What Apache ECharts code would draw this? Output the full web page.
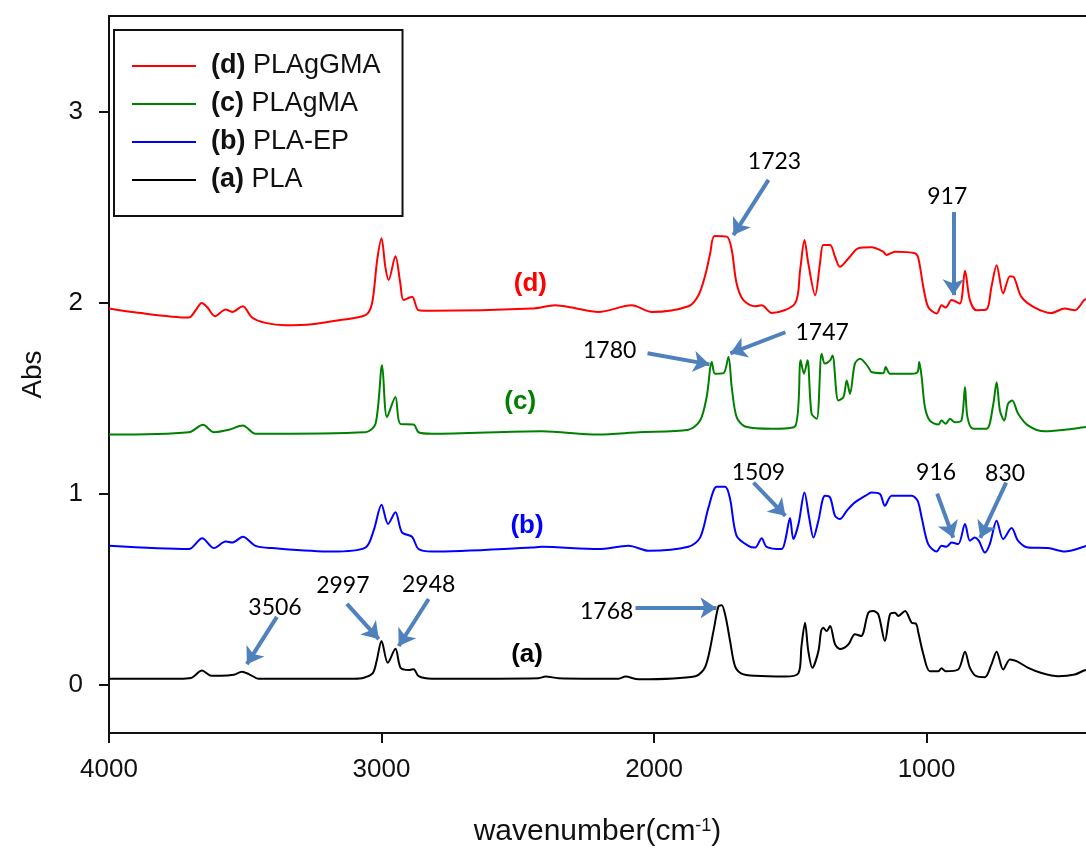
<!DOCTYPE html>
<html>
<head>
<meta charset="utf-8">
<script src="https://cdn.jsdelivr.net/npm/echarts@6/dist/echarts.min.js"></script>
<style>
html, body { margin: 0; padding: 0; background: #fff; }
#ichart { width: 1086px; height: 853px; }
</style>
</head>
<body>
<div id="ichart"></div>
<script>
// tick values
var xTicks = [1000, 2000, 3000, 4000]
var yTicks = [0, 1, 2, 3]

var seriesNames = ['(d) PLAgGMA', '(c) PLAgMA', '(b) PLA-EP', '(a) PLA']
var seriesColors = ['#ff0000', '#008000', '#0000ff', '#000000']

// spectra as [wavenumber, absorbance]
var specD = [[4000, 1.970], [3915, 1.952], [3707, 1.923], [3682, 1.961], [3660, 1.999], [3640, 1.978], [3611, 1.930], [3572, 1.965], [3548, 1.952], [3509, 1.982], [3475, 1.923], [3426, 1.895], [3352, 1.883], [3255, 1.888], [3157, 1.909], [3059, 1.935], [3035, 1.996], [3016, 2.223], [3000, 2.337], [2986, 2.188], [2974, 2.119], [2949, 2.244], [2931, 2.101], [2919, 2.014], [2888, 2.031], [2864, 1.961], [2815, 1.958], [2448, 1.970], [2362, 1.987], [2302, 1.975], [2204, 1.952], [2082, 1.987], [2008, 1.952], [1874, 1.982], [1837, 2.040], [1812, 2.145], [1794, 2.259], [1778, 2.349], [1733, 2.346], [1715, 2.276], [1697, 2.101], [1672, 2.014], [1629, 1.982], [1605, 1.987], [1568, 1.947], [1483, 1.996], [1464, 2.171], [1448, 2.328], [1434, 2.206], [1409, 2.040], [1391, 2.206], [1379, 2.302], [1354, 2.302], [1336, 2.241], [1318, 2.188], [1287, 2.232], [1250, 2.285], [1202, 2.290], [1159, 2.267], [1147, 2.250], [1116, 2.267], [1043, 2.259], [1030, 2.232], [1012, 2.083], [994, 1.978], [963, 1.944], [945, 1.987], [930, 1.975], [908, 2.014], [878, 1.996], [859, 2.167], [841, 2.014], [817, 1.961], [780, 1.965], [762, 2.083], [743, 2.197], [719, 2.049], [694, 2.139], [679, 2.133], [652, 2.031], [603, 1.975], [542, 1.947], [493, 1.970], [456, 1.961], [422, 2.014], [415, 2.02]]

var specC = [[4000, 1.311], [3707, 1.323], [3655, 1.362], [3615, 1.323], [3560, 1.336], [3509, 1.358], [3462, 1.315], [3059, 1.323], [3022, 1.367], [2998, 1.673], [2980, 1.402], [2949, 1.507], [2931, 1.367], [2882, 1.363], [2864, 1.323], [2815, 1.315], [2412, 1.328], [2204, 1.311], [2057, 1.323], [1874, 1.336], [1831, 1.384], [1807, 1.507], [1788, 1.690], [1776, 1.629], [1745, 1.632], [1727, 1.716], [1715, 1.559], [1697, 1.402], [1666, 1.353], [1568, 1.341], [1483, 1.353], [1462, 1.699], [1450, 1.629], [1437, 1.699], [1422, 1.420], [1403, 1.393], [1385, 1.734], [1373, 1.682], [1354, 1.699], [1345, 1.725], [1324, 1.489], [1305, 1.507], [1293, 1.594], [1281, 1.524], [1263, 1.682], [1244, 1.708], [1214, 1.664], [1202, 1.638], [1159, 1.632], [1150, 1.664], [1134, 1.629], [1055, 1.629], [1033, 1.638], [1027, 1.690], [1018, 1.611], [1006, 1.454], [988, 1.384], [957, 1.363], [945, 1.384], [930, 1.367], [914, 1.393], [896, 1.375], [872, 1.384], [859, 1.559], [850, 1.402], [829, 1.341], [780, 1.341], [756, 1.463], [743, 1.585], [731, 1.437], [715, 1.384], [701, 1.472], [686, 1.489], [664, 1.420], [627, 1.358], [566, 1.328], [493, 1.336], [422, 1.349], [415, 1.35]]

var specB = [[4000, 0.729], [3707, 0.712], [3658, 0.769], [3615, 0.717], [3572, 0.751], [3548, 0.746], [3509, 0.776], [3462, 0.729], [3402, 0.717], [3183, 0.699], [3059, 0.720], [3029, 0.808], [3000, 0.944], [2976, 0.843], [2949, 0.904], [2925, 0.799], [2888, 0.776], [2864, 0.712], [2815, 0.699], [2448, 0.720], [2412, 0.724], [2204, 0.712], [2094, 0.729], [2020, 0.703], [1874, 0.724], [1831, 0.772], [1800, 0.930], [1770, 1.038], [1739, 1.038], [1721, 0.974], [1697, 0.781], [1654, 0.729], [1629, 0.720], [1605, 0.769], [1587, 0.724], [1532, 0.712], [1519, 0.755], [1501, 0.874], [1489, 0.764], [1470, 0.843], [1448, 1.008], [1431, 0.877], [1415, 0.772], [1397, 0.860], [1373, 0.991], [1354, 0.982], [1336, 0.886], [1318, 0.869], [1293, 0.912], [1263, 0.956], [1214, 1.000], [1202, 1.008], [1171, 1.000], [1153, 0.939], [1128, 0.991], [1055, 0.991], [1033, 0.965], [1018, 0.877], [994, 0.738], [963, 0.699], [945, 0.729], [927, 0.724], [908, 0.746], [884, 0.738], [859, 0.843], [841, 0.755], [823, 0.772], [808, 0.755], [786, 0.694], [768, 0.738], [743, 0.860], [719, 0.764], [688, 0.822], [664, 0.755], [627, 0.720], [554, 0.717], [493, 0.699], [422, 0.724], [415, 0.73]]

var specA = [[4000, 0.034], [3743, 0.034], [3699, 0.038], [3659, 0.077], [3626, 0.050], [3589, 0.049], [3542, 0.055], [3512, 0.070], [3487, 0.058], [3450, 0.034], [3102, 0.034], [3065, 0.039], [3032, 0.063], [3018, 0.126], [3000, 0.231], [2977, 0.117], [2949, 0.190], [2930, 0.091], [2900, 0.079], [2882, 0.084], [2864, 0.047], [2815, 0.034], [2424, 0.037], [2398, 0.045], [2350, 0.037], [2130, 0.034], [2105, 0.045], [2057, 0.031], [1848, 0.047], [1811, 0.100], [1782, 0.283], [1764, 0.411], [1752, 0.418], [1738, 0.362], [1721, 0.231], [1703, 0.100], [1679, 0.061], [1629, 0.049], [1519, 0.045], [1470, 0.063], [1459, 0.205], [1446, 0.327], [1434, 0.178], [1419, 0.091], [1397, 0.178], [1387, 0.283], [1379, 0.300], [1367, 0.283], [1354, 0.309], [1336, 0.215], [1318, 0.189], [1287, 0.213], [1263, 0.267], [1240, 0.257], [1214, 0.378], [1196, 0.388], [1177, 0.371], [1153, 0.231], [1134, 0.372], [1116, 0.379], [1104, 0.362], [1079, 0.388], [1055, 0.327], [1038, 0.320], [1030, 0.274], [1012, 0.163], [988, 0.073], [957, 0.073], [945, 0.089], [930, 0.073], [884, 0.082], [859, 0.175], [841, 0.091], [817, 0.047], [786, 0.042], [762, 0.109], [743, 0.175], [719, 0.082], [694, 0.135], [670, 0.126], [627, 0.091], [578, 0.064], [517, 0.047], [456, 0.056], [422, 0.077], [415, 0.08]]

var spectra = [specD, specC, specB, specA]

// curve tags: text, wavenumber, abs
var curveTags = [['(d)', 2454, 2.10], ['(c)', 2491, 1.48], ['(b)', 2466, 0.834], ['(a)', 2466, 0.161]]

// peak annotations: text, [wn, abs] of text, arrow start, arrow tip
var peakNotes = [
  ['1723', [1558, 2.737], [1580, 2.643], [1709, 2.354]],
  ['917', [924, 2.554], [902, 2.475], [902, 2.040]],
  ['1780', [2163, 1.751], [2024, 1.736], [1797, 1.678]],
  ['1747', [1383, 1.846], [1518, 1.846], [1720, 1.736]],
  ['1509', [1617, 1.112], [1635, 1.059], [1518, 0.886]],
  ['916', [965, 1.112], [961, 1.002], [902, 0.771]],
  ['830', [712, 1.106], [708, 1.059], [803, 0.771]],
  ['1768', [2174, 0.383], [2068, 0.404], [1771, 0.404]],
  ['3506', [3391, 0.404], [3384, 0.357], [3494, 0.110]],
  ['2997', [3142, 0.519], [3127, 0.425], [3010, 0.241]],
  ['2948', [2827, 0.524], [2827, 0.451], [2937, 0.205]]
]

var FONT = '"Liberation Sans", Arial, sans-serif'
var ARROW = '#4f81bd'

var series = seriesNames.map(function (name, i) {
  return {
    name: name,
    type: 'line',
    data: spectra[i],
    symbol: 'none',
    smooth: 0.3,
    lineStyle: { color: seriesColors[i], width: 2 },
    itemStyle: { color: seriesColors[i] },
    z: 3
  }
})

series.push({
  name: 'tags',
  type: 'scatter',
  symbolSize: 0,
  silent: true,
  z: 5,
  itemStyle: { opacity: 1 },
  data: curveTags.map(function (t, i) {
    return {
      name: t[0],
      value: [t[1], t[2]],
      label: { color: seriesColors[i] }
    }
  }),
  label: {
    show: true,
    position: 'inside',
    formatter: '{b}',
    fontFamily: FONT,
    fontWeight: 'bold',
    fontSize: 26
  }
})

series.push({
  name: 'peaks',
  type: 'scatter',
  symbolSize: 0,
  silent: true,
  z: 6,
  itemStyle: { opacity: 1 },
  data: peakNotes.map(function (p) {
    return { name: p[0], value: p[1] }
  }),
  label: {
    show: true,
    position: 'inside',
    formatter: '{b}',
    fontFamily: 'Lato, "Open Sans", sans-serif',
    fontSize: 23,
    color: '#000'
  },
  markLine: {
    silent: true,
    animation: false,
    symbol: ['none', 'arrow'],
    symbolSize: 16,
    label: { show: false },
    lineStyle: { color: ARROW, width: 4, type: 'solid', opacity: 1 },
    data: peakNotes.map(function (p) {
      return [{ coord: p[2] }, { coord: p[3] }]
    })
  }
})

var myChart = echarts.init(document.getElementById('ichart'))
var option = {
  animation: false,
  backgroundColor: '#fff',
  grid: {
    left: 109,
    right: 0,
    top: 16,
    bottom: 120
  },
  legend: {
    data: seriesNames,
    orient: 'vertical',
    left: 114,
    top: 30,
    padding: [22, 22, 22, 18],
    itemGap: 10,
    icon: 'rect',
    itemWidth: 64,
    itemHeight: 2,
    borderColor: '#111',
    borderWidth: 2,
    backgroundColor: '#fff',
    formatter: function (name) {
      var parts = name.split(' ')
      return '{b|' + parts[0] + '} ' + parts.slice(1).join(' ')
    },
    textStyle: {
      fontFamily: FONT,
      fontSize: 27,
      lineHeight: 28,
      color: '#111',
      padding: [0, 0, 0, 10],
      rich: {
        b: { fontFamily: FONT, fontSize: 27, fontWeight: 'bold', color: '#111' }
      }
    }
  },
  xAxis: [{
    type: 'value',
    inverse: true,
    min: 415,
    max: 4000,
    name: 'wavenumber(cm{sup|-1})',
    nameLocation: 'middle',
    nameGap: 84,
    nameTextStyle: {
      fontFamily: FONT,
      fontSize: 30,
      color: '#111',
      rich: {
        sup: { fontFamily: FONT, fontSize: 18, verticalAlign: 'top', color: '#111' }
      }
    },
    axisLine: { onZero: false, lineStyle: { color: '#111', width: 2 } },
    axisTick: { customValues: xTicks, length: 10, lineStyle: { color: '#111', width: 2 } },
    axisLabel: {
      customValues: xTicks,
      margin: 24,
      fontFamily: FONT,
      fontSize: 26,
      color: '#111',
      formatter: function (v) { return String(v) }
    },
    splitLine: { show: false }
  }, {
    // top frame line only
    type: 'value',
    position: 'top',
    inverse: true,
    min: 415,
    max: 4000,
    axisLine: { show: true, onZero: false, lineStyle: { color: '#111', width: 2 } },
    axisTick: { show: false },
    axisLabel: { show: false },
    splitLine: { show: false }
  }],
  yAxis: {
    type: 'value',
    min: -0.25,
    max: 3.5,
    name: 'Abs',
    nameLocation: 'middle',
    nameGap: 62,
    nameTextStyle: { fontFamily: FONT, fontSize: 28, color: '#111' },
    axisLine: { show: true, onZero: false, lineStyle: { color: '#111', width: 2 } },
    axisTick: { show: true, customValues: yTicks, length: 10, lineStyle: { color: '#111', width: 2 } },
    axisLabel: { customValues: yTicks, margin: 26, fontFamily: FONT, fontSize: 26, color: '#111' },
    splitLine: { show: false }
  },
  series: series
}
myChart.setOption(option)
</script>
</body>
</html>
